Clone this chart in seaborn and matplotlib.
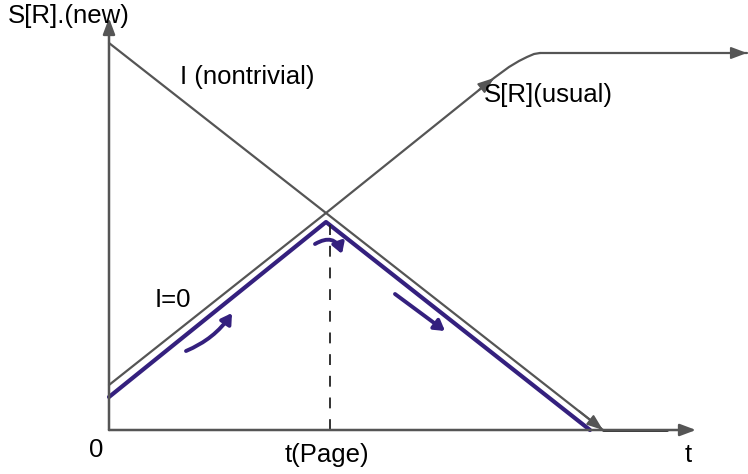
import numpy as np
import pandas as pd
import matplotlib
matplotlib.use("Agg")
import matplotlib.pyplot as plt
import seaborn as sns

sns.set_theme(style="white")
plt.rcParams['font.family'] = ['Liberation Sans', 'DejaVu Sans']

# schematic Page-curve data (t, S) in arbitrary units, origin at the axes corner
t_nontrivial = [0.0, 4.94]
s_nontrivial = [3.87, 0.0]

t_usual = [0.0, 2.17, 3.85, 4.00, 4.10, 4.18, 4.25, 4.31]
s_usual = [0.45, 2.17, 3.52, 3.63, 3.69, 3.73, 3.76, 3.77]
t_usual_flat = [4.31, 6.38]
s_usual_flat = [3.77, 3.77]

t_new = [0.0, 2.17, 4.81]
s_new = [0.33, 2.08, 0.0]

t_zero = [4.94, 5.58]
s_zero = [0.0, 0.0]

t_page = 2.21
t_axis_end = 5.87
s_axis_end = 4.12

grey = '#555555'
purple = '#34207e'

fig = plt.figure(figsize=(7.48, 4.74), dpi=100)
ax = fig.add_axes([0, 0, 1, 1])
ax.set_xlim(-1.09, 6.39)
ax.set_ylim(-0.44, 4.30)
ax.axis('off')

# axes with arrowheads
arrow_kw = dict(arrowstyle='-|>,head_length=0.8,head_width=0.3', color=grey, lw=1.8,
                shrinkA=0, shrinkB=0)
ax.annotate('', xy=(t_axis_end, 0), xytext=(0, 0), arrowprops=arrow_kw)
ax.annotate('', xy=(0, s_axis_end), xytext=(0, 0), arrowprops=arrow_kw)

# grey curves
sns.lineplot(x=t_nontrivial, y=s_nontrivial, color=grey, lw=1.6, ax=ax, sort=False)
ax.annotate('', xy=(t_nontrivial[1], s_nontrivial[1]), xytext=(4.70, 0.19),
            arrowprops=dict(arrowstyle='-|>,head_length=0.8,head_width=0.3', color=grey,
                            lw=1.4, shrinkA=0, shrinkB=0))
sns.lineplot(x=t_zero, y=s_zero, color='#222222', lw=2.0, ax=ax, sort=False)

sns.lineplot(x=t_usual, y=s_usual, color=grey, lw=1.6, ax=ax, sort=False)
ax.annotate('', xy=(3.85, 3.52), xytext=(3.70, 3.40),
            arrowprops=dict(arrowstyle='-|>,head_length=0.8,head_width=0.3', color=grey,
                            lw=1.4, shrinkA=0, shrinkB=0))
sns.lineplot(x=t_usual_flat, y=s_usual_flat, color=grey, lw=1.6, ax=ax, sort=False)
ax.annotate('', xy=(t_usual_flat[1], s_usual_flat[1]), xytext=(6.10, 3.77),
            arrowprops=dict(arrowstyle='-|>,head_length=0.8,head_width=0.3', color=grey,
                            lw=1.4, shrinkA=0, shrinkB=0))

# new (island) entropy curve
sns.lineplot(x=t_new, y=s_new, color=purple, lw=3.0, ax=ax, sort=False)

# dashed Page time marker
ax.plot([t_page, t_page], [0, 2.05], color='#222222', lw=1.3, ls=(0, (6, 6)))

# hand-drawn purple arrows
p_kw = dict(arrowstyle='-|>,head_length=0.5,head_width=0.3', color=purple, lw=2.8,
            shrinkA=0, shrinkB=0)
ax.annotate('', xy=(1.23, 1.17), xytext=(0.77, 0.79),
            arrowprops=dict(p_kw, connectionstyle='arc3,rad=0.15'))
ax.annotate('', xy=(2.33, 1.76), xytext=(2.06, 1.86),
            arrowprops=dict(p_kw, connectionstyle='arc3,rad=-0.6'))
ax.annotate('', xy=(3.36, 0.99), xytext=(2.86, 1.36), arrowprops=p_kw)

# labels
fs = 18.5
tc = 'black'
ax.text(-1.01, 4.14, 'S[R].(new)', fontsize=fs, va='center', ha='left', color=tc)
ax.text(0.71, 3.53, 'I (nontrivial)', fontsize=fs, va='center', ha='left', color=tc)
ax.text(3.75, 3.35, 'S[R](usual)', fontsize=fs, va='center', ha='left', color=tc)
ax.text(0.46, 1.30, 'I=0', fontsize=fs, va='center', ha='left', color=tc)
ax.text(-0.06, -0.20, '0', fontsize=fs, va='center', ha='right', color=tc)
ax.text(2.18, -0.25, 't(Page)', fontsize=fs, va='center', ha='center', color=tc)
ax.text(5.79, -0.25, 't', fontsize=fs, va='center', ha='center', color=tc)

fig.savefig('out.png', dpi=100)
